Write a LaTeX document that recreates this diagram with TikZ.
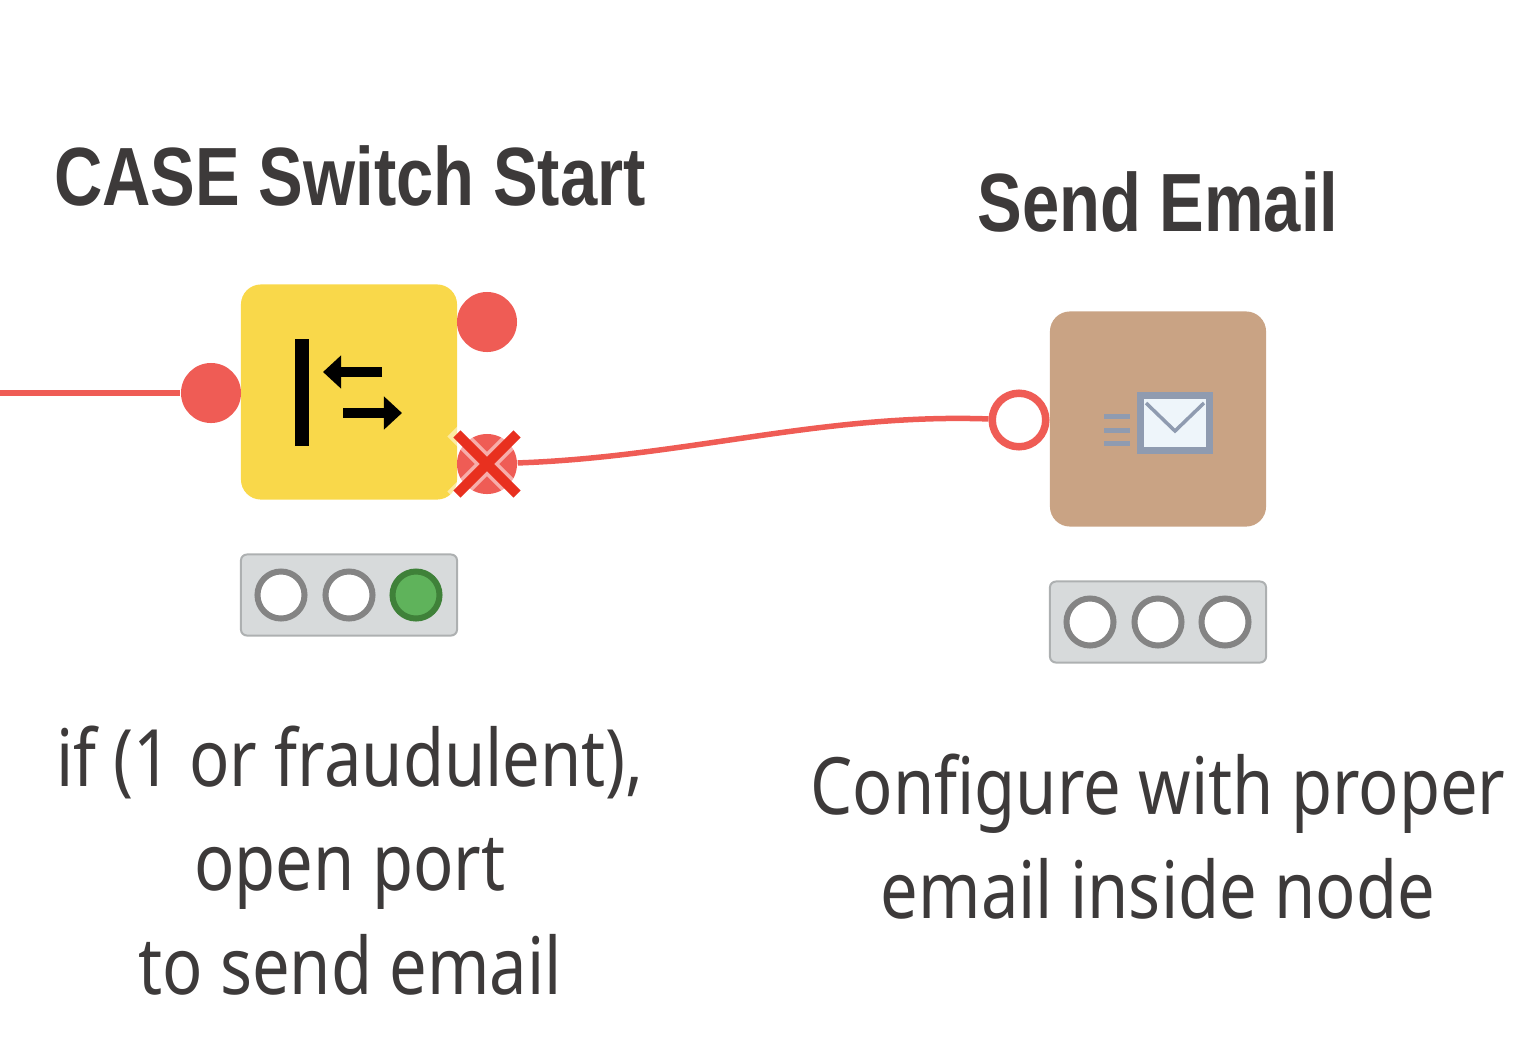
\documentclass[tikz,border=0pt]{standalone}
\usepackage{fontspec}
\newfontfamily\titlefont[FakeStretch=0.81]{Liberation Sans}
\newfontfamily\notefont[FakeStretch=0.845]{Noto Sans}
\usetikzlibrary{arrows.meta,shapes.misc}
\definecolor{portred}{HTML}{EF5C55}
\definecolor{crossred}{HTML}{E8301F}
\definecolor{caseyellow}{HTML}{F9D84A}
\definecolor{mailbrown}{HTML}{C9A384}
\definecolor{barfill}{HTML}{D7DADB}
\definecolor{barline}{HTML}{ADB0B1}
\definecolor{lightline}{HTML}{848484}
\definecolor{lightgreen}{HTML}{5FB35B}
\definecolor{lightdark}{HTML}{3F8139}
\definecolor{iconblue}{HTML}{8F9BB0}
\definecolor{iconpale}{HTML}{EEF5FA}
\definecolor{labeltext}{HTML}{3D3A3A}
\begin{document}
\begin{tikzpicture}[x=0.01cm,y=-0.01cm,
        node box/.style={rounded corners=0.2cm,minimum width=2.16cm,minimum height=2.15cm,inner sep=0},
        port/.style={circle,fill=portred,inner sep=0,minimum size=0.6cm},
        open port/.style={circle,draw=portred,fill=white,line width=0.075cm,inner sep=0,minimum size=0.535cm},
        status bar/.style={draw=barline,fill=barfill,line width=0.02cm,rounded corners=0.06cm,inner sep=0,minimum width=2.16cm,minimum height=0.81cm},
        light/.style={circle,draw=lightline,fill=white,line width=0.06cm,inner sep=0,minimum size=0.47cm},
        green light/.style={light,draw=lightdark,fill=lightgreen},
        title/.style={font=\fontsize{23.5}{29}\titlefont\bfseries,text=labeltext},
        note/.style={font=\fontsize{22.5}{29.6}\notefont,text=labeltext,align=center},
        link/.style={draw=portred,line width=0.055cm},
        cross mark/.style={cross out,draw=crossred,line width=0.1cm,inner sep=0,minimum size=0.5cm},
        icon arrow/.style={line width=0.1cm,-{Triangle[width=0.32cm,length=0.18cm]}}]
      \useasboundingbox (0,0) rectangle (1536,1039);
      \node[title,anchor=base] (switchtitle) at (350,205) {CASE Switch Start};
      \node[title,anchor=base] (mailtitle) at (1158,231) {Send Email};
      % case switch node
      \node[node box,fill=caseyellow] (switch) at (349,392) {};
      \node[port] (switchin) at (211,393) {};
      \node[port] (switchtop) at (487,322) {};
      \node[port] (switchbot) at (487,464) {};
      \node[cross mark,draw=white,opacity=0.5,line width=0.17cm] (crosshalo) at (487,464) {};
      \node[cross mark] (cross) at (487,464) {};
      \draw[line width=0.14cm] (302,339) -- (302,446);
      \draw[icon arrow] (382,372) -- (323,372);
      \draw[icon arrow] (343,413) -- (402,413);
      \node[status bar] (switchbar) at (349,595) {};
      \node[light] (switchred) at (281,595) {};
      \node[light] (switchamber) at (349,595) {};
      \node[green light] (switchgreen) at (416,595) {};
      % send email node
      \node[node box,fill=mailbrown] (mail) at (1158,419) {};
      \node[open port] (mailin) at (1019,420) {};
      \node[draw=iconblue,fill=iconpale,line width=0.07cm,inner sep=0,minimum width=0.68cm,minimum height=0.54cm] (envelope) at (1175,423) {};
      \draw[iconblue,line width=0.035cm] (1146,403) -- (1175,431) -- (1204,403);
      \draw[iconblue,line width=0.05cm] (1104,416) -- (1130,416) (1104,430) -- (1130,430) (1104,443) -- (1130,443);
      \node[status bar] (mailbar) at (1158,622) {};
      \node[light] (mailred) at (1090,622) {};
      \node[light] (mailamber) at (1158,622) {};
      \node[light] (mailgreen) at (1225,622) {};
      \coordinate (inflow) at (0,393);
      \path[link]
           (inflow) edge (switchin)
           (switchbot) edge [out=2,in=178,looseness=0.9] (mailin);
      \node[note] (switchnote) at (350,861) {if (1 or fraudulent),\\open port\\to send email};
      \node[note] (mailnote) at (1158,837) {Configure with proper\\email inside node};
    \end{tikzpicture}
\end{document}
